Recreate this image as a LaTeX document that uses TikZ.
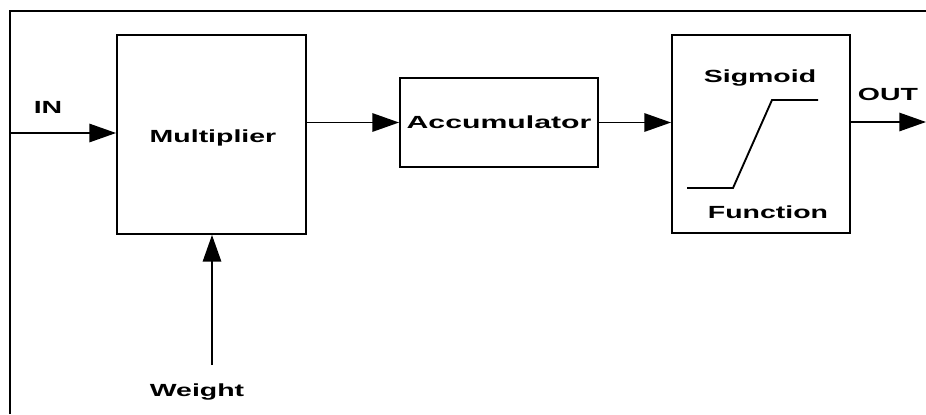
\documentclass[tikz,border=0pt]{standalone}
\usepackage{fontspec}
\setmainfont{Liberation Sans}
\usetikzlibrary{arrows.meta}
\newcommand{\wide}[2][1.62]{\scalebox{#1}[1]{#2}}

\begin{document}
\begin{tikzpicture}[
	x=0.03cm, y=-0.03cm,
	every node/.style={font=\fontsize{15}{17}\selectfont\bfseries},
	block/.style={shape=rectangle, draw=black, line width=1.6pt, inner sep=0pt},
	flow/.style={line width=1.6pt, -{Triangle[length=0.8cm, width=0.55cm]}},
]
\useasboundingbox (0,0) rectangle (926,414);
\draw[line width=2pt] (10,414) -- (10,11) -- (926,11);

\node[block, minimum width=5.67cm, minimum height=5.97cm] (mult) at (211.5,134.5) {};
\node (multtext) at (213,138) {\wide{Multiplier}};
\node[block, minimum width=5.94cm, minimum height=2.67cm] (acc) at (499,122.5) {\wide[1.72]{Accumulator}};
\node[block, minimum width=5.34cm, minimum height=5.94cm] (sig) at (761,134) {};
\node (sigtop) at (760,78) {\wide{Sigmoid}};
\node (sigbot) at (768,212) {\wide{Function}};
\draw[line width=1.6pt] (687,188) -- (733,188) -- (772,100) -- (818,100);

\coordinate (in) at (10,133);
\coordinate (out) at (926,122);
\coordinate (wt) at (212,365);
\node (inlabel) at (48,107) {\wide{IN}};
\node (outlabel) at (888,94) {\wide{OUT}};
\node (wtlabel) at (197,392) {\wide{Weight}};

\draw[flow] (in) -- (in -| mult.west);
\draw[flow] (mult.east |- acc.west) -- (acc.west);
\draw[flow] (acc.east) -- (acc.east -| sig.west);
\draw[flow] (sig.east |- out) -- (out);
\draw[flow] (wt) -- (wt |- mult.south);
\end{tikzpicture}
\end{document}
